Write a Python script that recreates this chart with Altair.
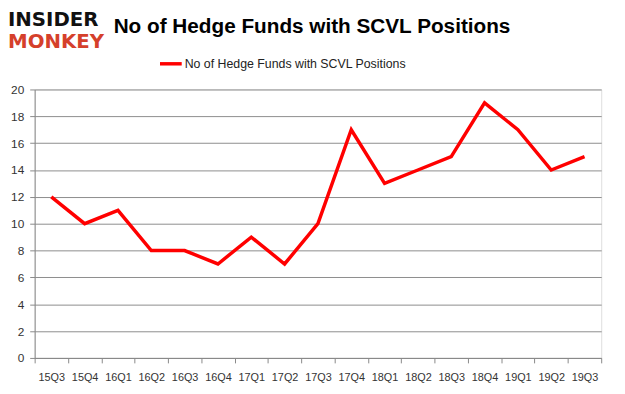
import altair as alt
import pandas as pd

quarters = ["15Q3", "15Q4", "16Q1", "16Q2", "16Q3", "16Q4", "17Q1", "17Q2", "17Q3",
            "17Q4", "18Q1", "18Q2", "18Q3", "18Q4", "19Q1", "19Q2", "19Q3"]
funds = [12, 10, 11, 8, 8, 7, 9, 7, 10, 17, 13, 14, 15, 19, 17, 14, 15]
y_ticks = [0, 2, 4, 6, 8, 10, 12, 14, 16, 18, 20]
title_text = ["No of Hedge Funds with SCVL Positions"]
legend_text = ["No of Hedge Funds with SCVL Positions"]
logo_top = ["INSIDER"]
logo_bottom = ["MONKEY"]

df = pd.DataFrame({"quarter": quarters, "funds": funds})

W, H = 574, 272
FONT = "Liberation Sans"

line = alt.Chart(df).mark_line(color="#ff0000", strokeWidth=3.5).encode(
    x=alt.X("quarter:N", sort=quarters, bandPosition=0.5,
            scale=alt.Scale(type="band", paddingInner=0, paddingOuter=0),
            axis=alt.Axis(title=None, labelAngle=0, tickBand="extent", tickSize=5,
                          tickColor="#888888", domainColor="#888888",
                          labelFont=FONT, labelFontSize=11, labelColor="#333333",
                          labelPadding=9, grid=False)),
    y=alt.Y("funds:Q", scale=alt.Scale(domain=[0, 20], nice=False),
            axis=alt.Axis(title=None, values=y_ticks, tickSize=5, tickColor="#888888",
                          domainColor="#888888", gridColor="#8c8c8c", gridWidth=1,
                          labelFont=FONT, labelFontSize=12, labelColor="#333333",
                          labelPadding=6)),
)

title = alt.Chart(pd.DataFrame({"t": title_text})).mark_text(
    font=FONT, fontSize=21, fontWeight="bold", color="#000000", align="center", baseline="middle"
).encode(text="t:N", x=alt.value(281), y=alt.value(-63))

legend_line = alt.Chart(pd.DataFrame({"t": legend_text})).mark_rule(
    color="#ff0000", strokeWidth=3.5
).encode(x=alt.value(127), x2=alt.value(149), y=alt.value(-26))

legend_label = alt.Chart(pd.DataFrame({"t": legend_text})).mark_text(
    font=FONT, fontSize=12.5, color="#222222", align="left", baseline="middle"
).encode(text="t:N", x=alt.value(152), y=alt.value(-26))

logo1 = alt.Chart(pd.DataFrame({"t": logo_top})).mark_text(
    font="DejaVu Sans", fontSize=20, fontWeight="bold", color="#111111", align="left",
    baseline="middle"
).encode(text="t:N", x=alt.value(-27), y=alt.value(-70))

logo2 = alt.Chart(pd.DataFrame({"t": logo_bottom})).mark_text(
    font="DejaVu Sans", fontSize=20, fontWeight="bold", color="#d5402b", align="left",
    baseline="middle"
).encode(text="t:N", x=alt.value(-27), y=alt.value(-48))

chart = alt.layer(line, title, legend_line, legend_label, logo1, logo2).properties(
    width=W, height=H,
    autosize=alt.AutoSizeParams(type="none"),
    padding={"left": 27, "top": 80, "right": 16, "bottom": 34},
).configure_view(stroke=None).configure(background="#ffffff")

chart.save("out.html", embed_options={"renderer": "svg", "actions": False})
